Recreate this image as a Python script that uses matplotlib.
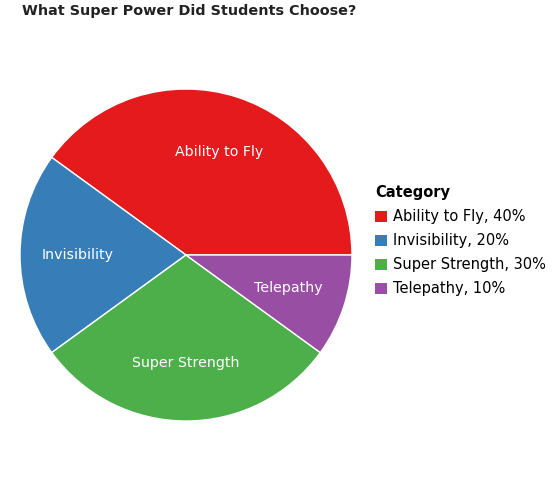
import matplotlib.pyplot as plt

categories = ["Ability to Fly", "Invisibility", "Super Strength", "Telepathy"]
percents = [40, 20, 30, 10]
colors = ["#e41a1c", "#377eb8", "#4daf4a", "#984ea3"]

plt.rcParams["font.family"] = ["DejaVu Sans"]

fig = plt.figure(figsize=(5.52, 4.95), dpi=100)
ax = fig.add_axes([20 / 552, (495 - 421) / 495, 332 / 552, 332 / 495])

wedges, texts = ax.pie(
    percents,
    labels=categories,
    colors=colors,
    startangle=0,
    counterclock=True,
    labeldistance=0.65,
    wedgeprops=dict(edgecolor="white", linewidth=1),
    textprops=dict(color="white", fontsize=10.2),
)
for t in texts:
    t.set_horizontalalignment("center")
    t.set_verticalalignment("center")
ax.set_xlim(-1.0, 1.0)
ax.set_ylim(-1.0, 1.0)
ax.set_aspect("equal")

fig.text(22 / 552, 1 - 11 / 495, "What Super Power Did Students Choose?",
         fontsize=10.4, fontweight="bold", color="#222222", va="center", ha="left")

leg = fig.legend(
    wedges,
    [f"{c}, {p}%" for c, p in zip(categories, percents)],
    title="Category",
    loc="upper left",
    bbox_to_anchor=(362 / 552, 1 - 172 / 495),
    frameon=False,
    fontsize=10.5,
    handlelength=0.8,
    handleheight=0.8,
    handletextpad=0.4,
    labelspacing=0.62,
    alignment="left",
)
leg.get_title().set_fontweight("bold")
leg.get_title().set_fontsize(10.5)
for h in leg.legend_handles:
    h.set_edgecolor("none")

fig.savefig("out.png", dpi=100)
